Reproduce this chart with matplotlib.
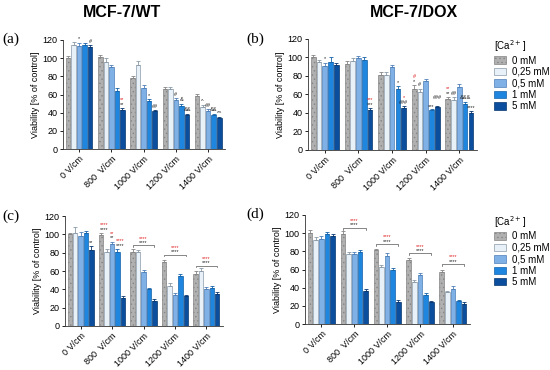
import numpy as np
import matplotlib
matplotlib.use('Agg')
import matplotlib.pyplot as plt

plt.rcParams['font.family'] = ['Liberation Sans', 'DejaVu Sans']
plt.rcParams['hatch.linewidth'] = 0.5

# --- data ---
groups = ['0 V/cm', '800  V/cm', '1000 V/cm', '1200 V/cm', '1400 V/cm']
ca_labels = ['0 mM', '0,25 mM', '0,5 mM', '1 mM', '5 mM']

# rows = field strength groups, cols = [Ca2+]
vals_a = [[100, 115, 113, 115, 112],
          [101, 96, 90, 64, 43],
          [78, 93, 67, 53, 42],
          [66, 66, 54, 47, 37],
          [58, 46, 42, 37, 34]]
err_a = [[2, 3, 4, 2, 2],
         [2, 4, 2, 3, 2],
         [2, 4, 3, 2, 1],
         [2, 2, 2, 3, 2],
         [3, 2, 2, 2, 1]]

vals_b = [[100, 95, 91, 95, 92],
          [93, 96, 99, 97, 43],
          [81, 81, 90, 66, 45],
          [66, 63, 74, 43, 46],
          [55, 54, 68, 50, 40]]
err_b = [[3, 2, 3, 5, 2],
         [3, 3, 2, 3, 2],
         [3, 3, 2, 3, 2],
         [4, 3, 3, 1, 1],
         [2, 3, 3, 2, 2]]

vals_c = [[100, 102, 98, 101, 83],
          [99, 81, 89, 81, 30],
          [81, 81, 59, 40, 27],
          [70, 44, 34, 55, 33],
          [57, 60, 40, 42, 35]]
err_c = [[2, 6, 5, 3, 4],
         [2, 3, 3, 3, 3],
         [3, 2, 2, 2, 2],
         [2, 3, 2, 2, 1],
         [3, 3, 3, 2, 2]]

vals_d = [[100, 92, 94, 99, 97],
          [99, 77, 77, 79, 36],
          [81, 63, 75, 59, 24],
          [70, 46, 54, 32, 24],
          [57, 35, 39, 25, 22]]
err_d = [[3, 4, 3, 2, 2],
         [3, 2, 2, 2, 3],
         [2, 2, 3, 3, 3],
         [3, 3, 2, 2, 1],
         [3, 1, 3, 2, 2]]

# significance marks: (group, bar, black text, red text, extra lift)
marks_a = [(0, 2, '*', '', 0), (0, 4, '#', '', 0), (1, 4, '**', '**', 0),
           (2, 3, '*', '', 0), (2, 4, '##', '', 0),
           (3, 2, '#', '', 0), (3, 3, '&', '', 0), (3, 4, '&&', '', 0),
           (4, 1, '^', '', 0), (4, 2, '##', '', 0), (4, 3, '&&', '', 0), (4, 4, '^^', '', 0)]
marks_b = [(0, 2, '*', '', 0), (1, 4, '***', '***', 0),
           (2, 3, '*', '', 0), (2, 4, '###', '*', 0),
           (3, 0, '*', '#', 0), (3, 1, '#', '', 0), (3, 3, '***', '', -1), (3, 4, '###', '', 5),
           (4, 0, '**', '**', 0), (4, 1, '##', '', 0), (4, 3, '&&&', '', 0), (4, 4, '****', '', 0)]
marks_c = [(0, 4, '**', '', 0), (1, 2, '**', '**', 0), (1, 3.5, '****', '****', 0),
           (1, 0.5, '****', '****', 0)]
marks_d = []
# brackets: (group, y level)
brackets_c = [(2, 88), (3, 78), (4, 66)]
brackets_d = [(1, 106), (2, 88), (3, 78), (4, 66)]

colors = ['#b0b0b0', '#e8f1f8', '#7fb0e6', '#1f86e0', '#0b4e9e']
edges = ['#858585', '#8a9aa8', '#4d7fb8', '#1462a8', '#063670']
hatches = ['....', None, None, None, None]

step = 0.172
width = 0.14


def draw(ax, vals, errs, marks, brackets):
    vals = np.array(vals, dtype=float)
    errs = np.array(errs, dtype=float)
    x = np.arange(len(groups))
    handles = []
    for j in range(len(ca_labels)):
        xs = x + (j - 2) * step
        b = ax.bar(xs, vals[:, j], width, color=colors[j], edgecolor=edges[j],
                   linewidth=0.5, hatch=hatches[j], label=ca_labels[j], zorder=2)
        handles.append(b)
        ax.errorbar(xs, vals[:, j], yerr=[np.zeros(len(xs)), errs[:, j]], fmt='none',
                    ecolor=edges[j], elinewidth=0.6, capsize=1.2, capthick=0.6, zorder=3)
    for g, k, txt, red, dy in marks:
        if k != int(k):
            top = max(vals[g, int(k)] + errs[g, int(k)], vals[g, int(k) + 1] + errs[g, int(k) + 1])
        else:
            top = vals[g, int(k)] + errs[g, int(k)]
        top += dy
        xp = x[g] + (k - 2) * step
        ax.text(xp, top + 1.5, txt, ha='center', va='bottom', fontsize=4.0, color='#222222')
        if red:
            ax.text(xp, top + 6.5, red, ha='center', va='bottom', fontsize=4.0, color='#e02020')
    for g, yl in brackets:
        x0 = x[g] - 2 * step
        x1 = x[g] + 2 * step
        ax.plot([x0, x0, x1, x1], [yl - 2, yl, yl, yl - 2], color='#555555', lw=0.5, zorder=3)
        ax.text(x[g], yl + 0.5, '****', ha='center', va='bottom', fontsize=4.0, color='#222222')
        ax.text(x[g], yl + 5, '****', ha='center', va='bottom', fontsize=4.0, color='#e02020')
    ax.set_xlim(-0.5, 4.52)
    ax.set_ylim(0, 120)
    ax.set_yticks(np.arange(0, 121, 20))
    ax.set_xticks(x)
    ax.set_xticklabels(groups, rotation=45, ha='right', rotation_mode='anchor', fontsize=6.5)
    ax.tick_params(axis='y', labelsize=6.5, length=2.5, width=0.6, pad=1.5)
    ax.tick_params(axis='x', length=2.5, width=0.6, pad=1.5)
    ax.set_ylabel('Viability [% of control]', fontsize=6.5, labelpad=2)
    for s in ['top', 'right']:
        ax.spines[s].set_visible(False)
    for s in ['left', 'bottom']:
        ax.spines[s].set_linewidth(0.6)
        ax.spines[s].set_color('#333333')
    return handles


fig = plt.figure(figsize=(5.5, 3.7), dpi=100)
ax_a = fig.add_axes([0.1145, 0.597, 0.2945, 0.295])
ax_b = fig.add_axes([0.560, 0.595, 0.307, 0.300])
ax_c = fig.add_axes([0.118, 0.119, 0.287, 0.297])
ax_d = fig.add_axes([0.5545, 0.124, 0.300, 0.295])

draw(ax_a, vals_a, err_a, marks_a, [])
hb = draw(ax_b, vals_b, err_b, marks_b, [])
draw(ax_c, vals_c, err_c, marks_c, brackets_c)
hd = draw(ax_d, vals_d, err_d, marks_d, brackets_d)

fig.text(0.222, 0.965, 'MCF-7/WT', ha='center', va='center', fontsize=11.5, fontweight='bold')
fig.text(0.753, 0.965, 'MCF-7/DOX', ha='center', va='center', fontsize=11.5, fontweight='bold')

for lab, xx, yy in [('(a)', 0.005, 0.895), ('(b)', 0.448, 0.895),
                    ('(c)', 0.005, 0.415), ('(d)', 0.448, 0.42)]:
    fig.text(xx, yy, lab, ha='left', va='center', fontsize=11, family='Liberation Serif')

for hh, yy in [(hb, 0.915), (hd, 0.44)]:
    leg = fig.legend(handles=hh, labels=ca_labels, title='[Ca$^{2+}$]', loc='upper left',
                     bbox_to_anchor=(0.885, yy), frameon=False, fontsize=7,
                     title_fontsize=7, labelspacing=0.15, handlelength=1.3,
                     handleheight=0.8, handletextpad=0.6, borderpad=0.2)
    leg._legend_box.align = 'left'

fig.savefig('out.png', dpi=100)
